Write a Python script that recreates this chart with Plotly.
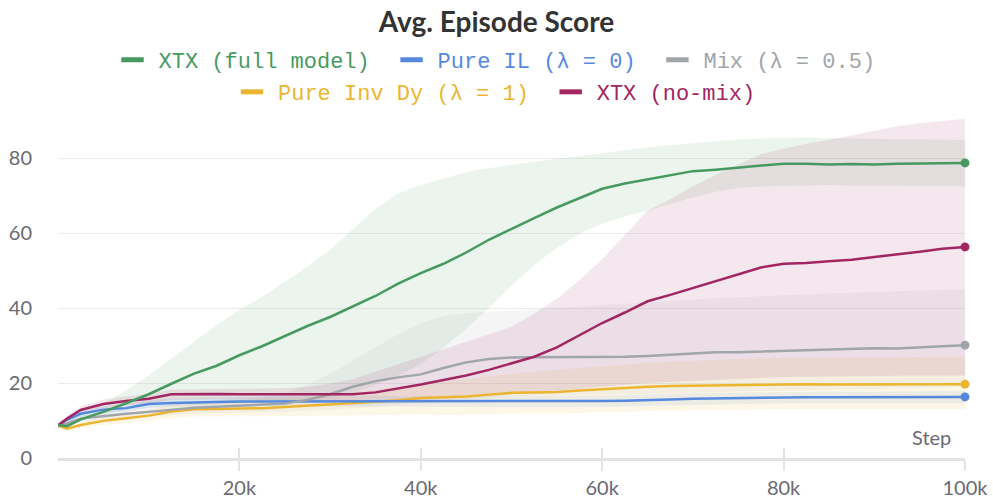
import plotly.graph_objects as go

steps = [0, 1000, 2500, 5000, 7500, 10000, 12500, 15000, 17500, 20000, 22500, 25000, 27500,
         30000, 32500, 35000, 37500, 40000, 42500, 45000, 47500, 50000, 52500, 55000, 57500,
         60000, 62500, 65000, 67500, 70000, 72500, 75000, 77500, 80000, 82500, 85000, 87500,
         90000, 92500, 95000, 97500, 100000]

xtx_full = [8.8, 8.5, 10.3, 12.3, 14.6, 17.0, 19.8, 22.5, 24.6, 27.4, 29.8, 32.5, 35.2, 37.6, 40.3,
            43.2, 46.5, 49.3, 51.8, 54.8, 58.2, 61.2, 64.0, 66.8, 69.2, 71.8, 73.2, 74.3, 75.6,
            76.5, 76.9, 77.4, 78.0, 78.5, 78.5, 78.3, 78.4, 78.3, 78.5, 78.6, 78.6, 78.7]
xtx_full_hi = [9.3, 9.5, 11.5, 14.5, 18.0, 22.0, 26.5, 31.0, 35.5, 39.5, 43.0, 47.0, 51.0, 55.5, 61.0,
               66.5, 70.5, 72.8, 74.5, 76.3, 77.3, 78.2, 79.0, 79.8, 80.5, 81.3, 82.2, 82.8, 83.4,
               84.0, 84.5, 85.0, 85.2, 85.4, 85.5, 85.3, 85.2, 85.1, 85.0, 84.9, 84.8, 84.8]
xtx_full_lo = [8.3, 8.0, 9.8, 11.5, 12.8, 13.5, 14.0, 14.3, 14.5, 14.6, 14.8, 15.0, 15.3, 16.0, 17.5,
               19.5, 22.0, 25.0, 29.5, 34.5, 40.0, 46.0, 51.5, 56.0, 59.8, 62.5, 64.5, 66.0, 67.8,
               69.5, 71.0, 72.0, 72.4, 72.6, 72.8, 72.8, 72.7, 72.7, 72.6, 72.6, 72.5, 72.5]

pure_il = [8.7, 10.2, 11.8, 12.9, 13.3, 14.4, 14.7, 14.9, 15.0, 15.1, 15.1, 15.1, 15.1, 15.2, 15.2,
           15.2, 15.1, 15.1, 15.1, 15.0, 15.0, 15.0, 15.0, 15.0, 15.1, 15.2, 15.3, 15.4, 15.6,
           15.8, 15.9, 16.0, 16.1, 16.2, 16.2, 16.2, 16.2, 16.2, 16.2, 16.3, 16.3, 16.3]
pure_il_hi = [9.1, 10.8, 12.6, 13.8, 14.3, 15.4, 15.8, 16.0, 16.2, 16.3, 16.3, 16.4, 16.4, 16.5, 16.5,
              16.6, 16.5, 16.5, 16.5, 16.4, 16.4, 16.4, 16.5, 16.5, 16.6, 16.7, 16.8, 16.9, 17.1,
              17.3, 17.4, 17.5, 17.6, 17.7, 17.7, 17.7, 17.7, 17.8, 17.8, 17.9, 17.9, 17.9]
pure_il_lo = [8.3, 9.6, 11.0, 12.0, 12.3, 13.4, 13.6, 13.8, 13.8, 13.9, 13.9, 13.8, 13.8, 13.9, 13.9,
              13.8, 13.7, 13.7, 13.7, 13.6, 13.6, 13.6, 13.5, 13.5, 13.6, 13.7, 13.8, 13.9, 14.1,
              14.3, 14.4, 14.5, 14.6, 14.7, 14.7, 14.7, 14.7, 14.6, 14.6, 14.7, 14.7, 14.7]

mix = [8.6, 9.2, 10.5, 11.2, 11.8, 12.3, 12.9, 13.4, 13.7, 14.0, 14.2, 14.5, 15.5, 17.0, 19.0,
       20.5, 21.5, 22.3, 24.0, 25.5, 26.4, 26.8, 26.9, 26.9, 26.8, 27.0, 27.0, 27.2, 27.5,
       27.8, 28.2, 28.2, 28.4, 28.5, 28.6, 28.8, 29.0, 29.3, 29.2, 29.4, 29.8, 30.1]
mix_hi = [9.0, 9.8, 11.3, 12.2, 13.0, 13.6, 14.3, 14.9, 15.4, 15.8, 16.3, 17.3, 19.5, 22.5, 26.0,
          29.5, 33.0, 36.0, 37.8, 38.6, 38.9, 39.2, 39.6, 40.0, 40.4, 40.8, 41.2, 41.6, 42.0,
          42.3, 42.6, 42.9, 43.1, 43.3, 43.6, 43.9, 44.1, 44.3, 44.5, 44.7, 44.9, 45.0]
mix_lo = [8.2, 8.6, 9.7, 10.2, 10.6, 11.0, 11.5, 11.9, 12.1, 12.3, 12.3, 12.4, 12.6, 12.9, 13.3,
          13.8, 14.3, 14.8, 15.3, 15.8, 16.2, 16.5, 16.6, 16.6, 16.7, 16.8, 16.9, 17.0, 17.2,
          17.4, 17.6, 17.7, 17.8, 18.0, 18.1, 18.2, 18.3, 18.5, 18.5, 18.6, 18.8, 19.0]

inv_dy = [8.6, 7.8, 8.8, 9.9, 10.6, 11.3, 12.4, 13.0, 13.1, 13.2, 13.3, 13.6, 13.9, 14.2, 14.6,
          15.0, 15.4, 16.0, 16.2, 16.4, 16.9, 17.4, 17.5, 17.6, 18.0, 18.4, 18.7, 19.0, 19.2,
          19.3, 19.4, 19.5, 19.6, 19.7, 19.7, 19.6, 19.6, 19.6, 19.5, 19.6, 19.6, 19.7]
inv_dy_hi = [9.0, 8.4, 9.6, 11.0, 12.0, 12.9, 14.2, 14.9, 15.2, 15.4, 15.6, 16.0, 16.5, 17.0, 17.6,
             18.2, 18.9, 19.8, 20.4, 21.0, 21.8, 22.5, 23.0, 23.4, 24.0, 24.5, 25.0, 25.4, 25.7,
             26.0, 26.2, 26.4, 26.6, 26.7, 26.8, 26.8, 26.9, 26.9, 26.9, 27.0, 27.0, 27.0]
inv_dy_lo = [8.2, 7.2, 8.0, 8.8, 9.3, 9.8, 10.6, 11.1, 11.1, 11.1, 11.0, 11.1, 11.2, 11.3, 11.4,
             11.5, 11.5, 11.6, 11.5, 11.5, 11.6, 11.8, 11.8, 11.8, 12.0, 12.2, 12.4, 12.6, 12.7,
             12.8, 12.8, 12.9, 12.9, 13.0, 13.0, 13.0, 13.0, 13.0, 13.0, 13.0, 13.0, 13.0]

xtx_nomix = [8.7, 10.5, 12.8, 14.4, 15.2, 15.8, 17.0, 17.1, 17.1, 17.0, 17.0, 16.9, 16.9, 16.9, 17.0,
             17.5, 18.5, 19.6, 20.8, 22.0, 23.5, 25.2, 27.0, 29.5, 32.8, 36.0, 38.8, 41.8, 43.5,
             45.3, 47.2, 49.0, 50.8, 51.8, 52.0, 52.5, 52.9, 53.6, 54.2, 55.0, 55.8, 56.3]
xtx_nomix_hi = [9.2, 11.2, 13.8, 15.6, 16.5, 17.2, 18.3, 18.4, 18.4, 18.4, 18.5, 18.6, 19.0, 19.8, 21.0,
                23.0, 25.0, 27.0, 29.0, 31.0, 33.0, 35.0, 38.5, 42.5, 47.5, 53.0, 59.5, 66.0, 69.0,
                72.5, 75.5, 78.3, 81.0, 82.5, 83.8, 84.8, 86.0, 87.2, 88.5, 89.3, 90.0, 90.5]
xtx_nomix_lo = [8.2, 9.8, 11.8, 13.2, 14.0, 14.5, 15.5, 15.7, 15.7, 15.6, 15.5, 15.3, 15.2, 15.1, 15.0,
                15.0, 15.2, 15.5, 15.8, 16.2, 16.5, 17.0, 17.5, 18.0, 18.5, 19.0, 19.5, 20.0, 20.3,
                20.6, 20.9, 21.2, 21.4, 21.6, 21.7, 21.8, 21.8, 21.9, 21.9, 22.0, 22.0, 22.0]

x_tickvals = [20000, 40000, 60000, 80000, 100000]
x_ticktext = ["20k", "40k", "60k", "80k", "100k"]
y_tickvals = [0, 20, 40, 60, 80]

series = [
    ("XTX (full model)", xtx_full, xtx_full_hi, xtx_full_lo, (71, 154, 95), "legend"),
    ("Pure IL (λ = 0)", pure_il, pure_il_hi, pure_il_lo, (84, 137, 222), "legend"),
    ("Mix (λ = 0.5)", mix, mix_hi, mix_lo, (160, 165, 170), "legend"),
    ("Pure Inv Dy (λ = 1)", inv_dy, inv_dy_hi, inv_dy_lo, (236, 181, 48), "legend2"),
    ("XTX (no-mix)", xtx_nomix, xtx_nomix_hi, xtx_nomix_lo, (161, 38, 98), "legend2"),
]
last_in_row = {"Mix (λ = 0.5)", "XTX (no-mix)"}

fig = go.Figure()

# shaded bands
for name, mean, hi, lo, c, lg in series:
    fc = "rgba(%d,%d,%d,0.11)" % c
    fig.add_trace(go.Scatter(x=steps, y=lo, mode="lines", line=dict(width=0),
                             showlegend=False, hoverinfo="skip"))
    fig.add_trace(go.Scatter(x=steps, y=hi, mode="lines", line=dict(width=0),
                             fill="tonexty", fillcolor=fc, showlegend=False, hoverinfo="skip"))

# lines
draw_order = [3, 1, 2, 4, 0]
for i in draw_order:
    name, mean, hi, lo, c, lg = series[i]
    col = "rgb(%d,%d,%d)" % c
    fig.add_trace(go.Scatter(x=steps, y=mean, mode="lines", line=dict(color=col, width=2.5),
                             showlegend=False, name=name))
    fig.add_trace(go.Scatter(x=steps[-1:], y=mean[-1:], mode="markers",
                             marker=dict(color=col, size=9), showlegend=False, cliponaxis=False))

# legend entries
lead = "<span style='font-size:10px'>\u00a0</span>"
trail = "<span style='font-size:28px'>\u00a0</span>"
for name, mean, hi, lo, c, lg in series:
    col = "rgb(%d,%d,%d)" % c
    label = lead + "<span style='color:%s'>%s</span>" % (col, name)
    if name not in last_in_row:
        label += trail
    fig.add_trace(go.Scatter(x=[None], y=[None], mode="markers",
                             marker=dict(symbol="line-ew", size=16, color=col,
                                         line=dict(color=col, width=5)),
                             name=label, legend=lg))

# invisible overlay axis for upward tick halves
fig.add_trace(go.Scatter(x=[0, 100000], y=[None, None], xaxis="x2", showlegend=False,
                         hoverinfo="skip"))

tick_font = dict(family="Lato", size=20, color="#6a6a74")
legend_font = dict(family="Liberation Mono", size=22)

fig.update_layout(
    width=993, height=502,
    margin=dict(l=58, r=28, t=107, b=44),
    paper_bgcolor="white", plot_bgcolor="white",
    title=dict(text="<b>Avg. Episode Score</b>", x=0.5, xanchor="center", y=0.956, yref="container",
               yanchor="middle", font=dict(family="Lato", size=28, color="#333333")),
    legend=dict(orientation="h", xref="container", x=0.5, xanchor="center", yref="container",
                y=0.8805, yanchor="middle", font=legend_font, traceorder="normal",
                bgcolor="rgba(0,0,0,0)"),
    legend2=dict(orientation="h", xref="container", x=0.5, xanchor="center", yref="container",
                 y=0.8167, yanchor="middle", font=legend_font, traceorder="normal",
                 bgcolor="rgba(0,0,0,0)"),
    xaxis=dict(range=[0, 100000], tickvals=x_tickvals, ticktext=x_ticktext, showgrid=False,
               zeroline=False, automargin=False,
               showline=True, linecolor="#e3e3e3", linewidth=3, ticks="outside", ticklen=10,
               tickwidth=2, tickcolor="#e3e3e3", tickfont=tick_font),
    xaxis2=dict(range=[0, 100000], overlaying="x", anchor="y", side="bottom", automargin=False,
                tickvals=x_tickvals, showticklabels=False,
                ticks="inside", ticklen=10, tickwidth=2, tickcolor="#e3e3e3",
                showgrid=False, zeroline=False, showline=False),
    yaxis=dict(range=[0, 92], tickvals=y_tickvals, showgrid=True, gridcolor="#ececec",
               gridwidth=1, zeroline=False, showline=False, ticks="", tickfont=tick_font,
               ticklabelstandoff=25, automargin=False),
    annotations=[dict(text="Step", xref="paper", yref="paper", x=1, y=0.02, xshift=-12,
                      xanchor="right", yanchor="bottom", showarrow=False, font=tick_font)],
    hovermode=False,
)

fig.write_html("out.html", config={"displayModeBar": False},
               post_script="document.body.style.margin='0';document.body.style.overflow='hidden';")
